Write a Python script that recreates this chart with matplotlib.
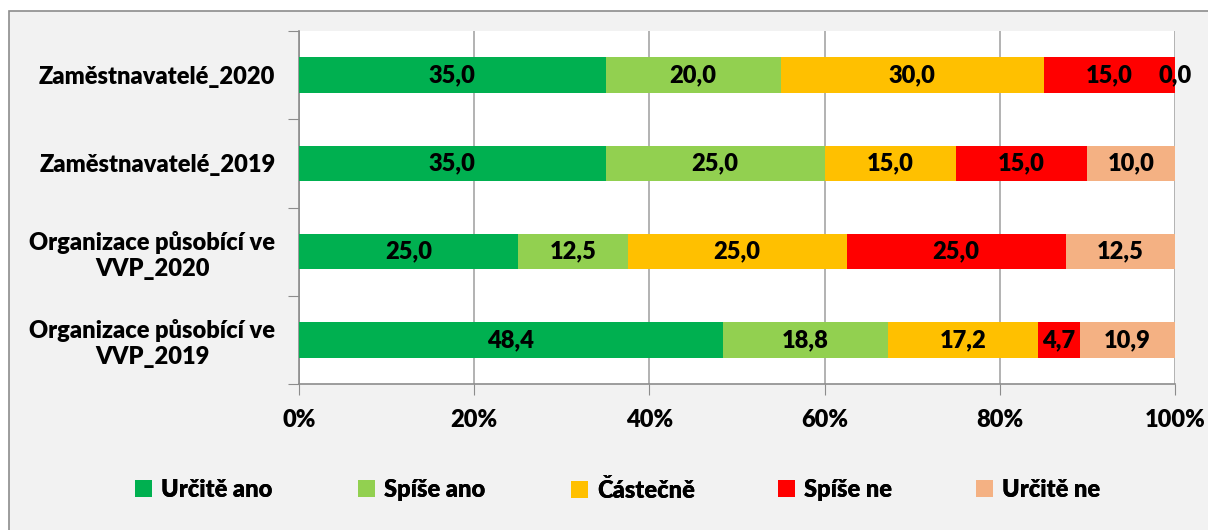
import numpy as np
import matplotlib
matplotlib.use("Agg")
import matplotlib.pyplot as plt
from matplotlib.patches import Rectangle

# data
categories = ["Zaměstnavatelé_2020", "Zaměstnavatelé_2019",
              "Organizace působící ve\nVVP_2020", "Organizace působící ve\nVVP_2019"]
series_names = ["Určitě ano", "Spíše ano", "Částečně", "Spíše ne", "Určitě ne"]
urcite_ano = [35.0, 35.0, 25.0, 48.4]
spise_ano = [20.0, 25.0, 12.5, 18.8]
castecne = [30.0, 15.0, 25.0, 17.2]
spise_ne = [15.0, 15.0, 25.0, 4.7]
urcite_ne = [0.0, 10.0, 12.5, 10.9]
colors = ["#00b050", "#92d050", "#ffc000", "#ff0000", "#f4b183"]
x_ticks = [0, 20, 40, 60, 80, 100]

# legend entry left edges (pixels), as laid out in the original
legend_x = [135, 358, 571, 778, 976]

W = 800  # font weight
plt.rcParams["font.family"] = ["Lato", "DejaVu Sans"]
plt.rcParams["font.weight"] = W

fig = plt.figure(figsize=(12.08, 5.30), dpi=100)
fig.patch.set_facecolor("white")
# gray chart-area box
fig.patches.append(Rectangle((9 / 1208, -0.5), 2, 0.5 + 1 - 11 / 530, transform=fig.transFigure,
                             facecolor="#f2f2f2", edgecolor="#8c8c8c", linewidth=1.2, zorder=-10))

ax = fig.add_axes([299 / 1208, 1 - 384 / 530, 876 / 1208, 353 / 530])
ax.set_facecolor("white")

y = np.arange(len(categories))
data = [urcite_ano, spise_ano, castecne, spise_ne, urcite_ne]
left = np.zeros(len(categories))
handles = []
for vals, name, col in zip(data, series_names, colors):
    vals = np.array(vals)
    b = ax.barh(y, vals, left=left, height=0.4, color=col, label=name, zorder=3)
    handles.append(b)
    for yi, l, v in zip(y, left, vals):
        ax.text(l + v / 2, yi, f"{v:.1f}".replace(".", ","), ha="center", va="center",
                fontsize=17, fontweight=W, color="black", zorder=4, clip_on=False)
    left = left + vals

ax.set_xlim(0, 100)
ax.set_ylim(len(categories) - 0.5, -0.5)
ax.set_xticks(x_ticks)
ax.set_xticklabels([f"{t}%" for t in x_ticks], fontsize=17, fontweight=W)
ax.set_yticks(np.arange(len(categories) + 1) - 0.5)
ax.set_yticklabels([])
ax.set_yticks(y, minor=True)
ax.set_yticklabels(categories, minor=True, fontsize=17, fontweight=W, ha="right",
                   multialignment="center")
ax.tick_params(axis="y", which="minor", length=0, pad=17)
ax.tick_params(axis="y", which="major", length=8, color="#8c8c8c", direction="out")
ax.tick_params(axis="x", length=8, color="#8c8c8c", direction="out", pad=10)
ax.grid(axis="x", color="#a6a6a6", linewidth=1.2, zorder=0)
for s in ["top", "right"]:
    ax.spines[s].set_visible(False)
for s in ["left", "bottom"]:
    ax.spines[s].set_color("#8c8c8c")
    ax.spines[s].set_linewidth(1.2)

# one legend per entry so the spacing follows the original
for h, name, lx in zip(handles, series_names, legend_x):
    leg = fig.legend([h], [name], loc="center left", bbox_to_anchor=(lx / 1208, 1 - 490 / 530),
                     frameon=False, prop={"size": 17, "weight": W}, borderpad=0, borderaxespad=0,
                     handlelength=0.7, handleheight=0.7, handletextpad=0.4)
    fig.add_artist(leg)

fig.savefig("out.png", dpi=100)
